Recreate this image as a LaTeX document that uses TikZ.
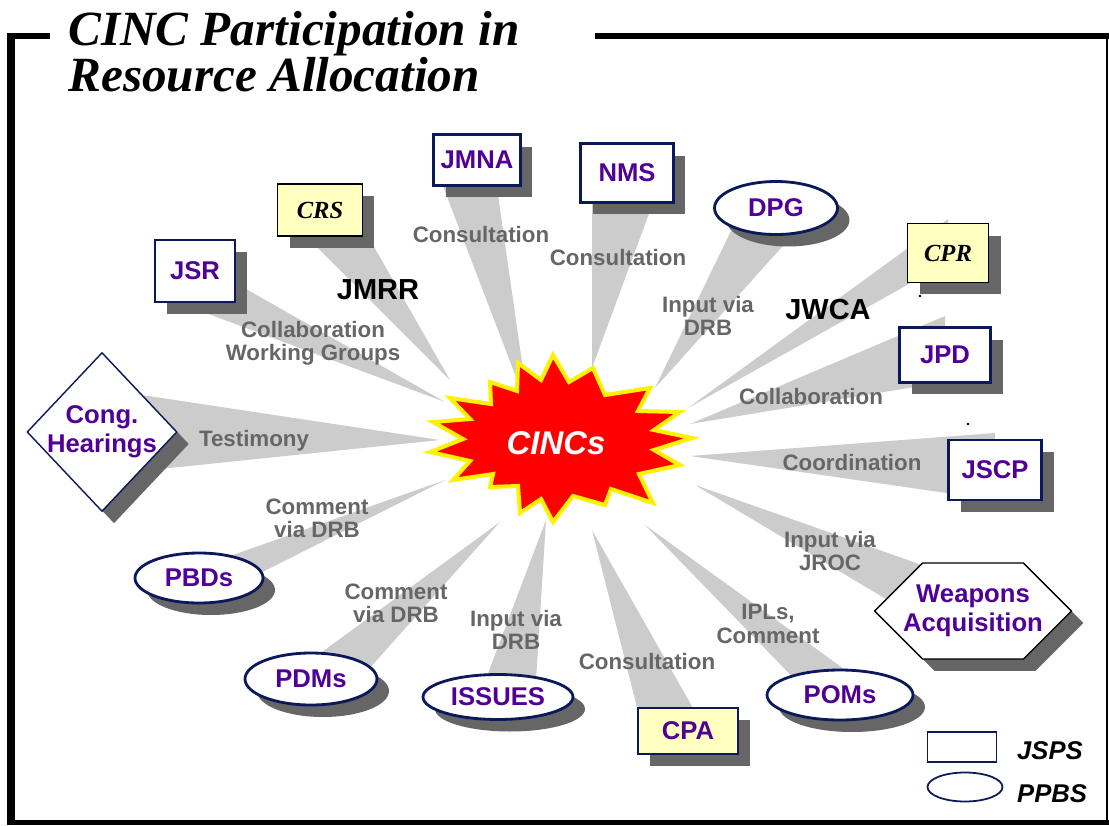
\documentclass[tikz,border=0pt]{standalone}
\usepackage{fontspec}
\setmainfont{Liberation Serif}
\setsansfont{Liberation Sans}
\usetikzlibrary{shapes.geometric, shapes.symbols, shadows, calc, backgrounds}

\definecolor{spokegray}{RGB}{204,204,204}
\definecolor{shadowgray}{RGB}{102,102,102}
\definecolor{tagtext}{RGB}{102,102,102}
\definecolor{navyline}{RGB}{10,25,90}
\definecolor{nodetext}{RGB}{80,0,150}
\definecolor{paleyellow}{RGB}{255,255,192}

\begin{document}
\begin{tikzpicture}[
    x = 0.02cm, y = -0.02cm,
    spoke/.style = {fill=spokegray},
    dropped/.style = {drop shadow={shadow xshift=0.24cm, shadow yshift=-0.24cm,
                      fill=shadowgray, opacity=1}},
    nodefont/.style = {font=\sffamily\bfseries\fontsize{14.6}{16.5}\selectfont, text=nodetext},
    jspsbox/.style = {rectangle, draw=navyline, line width=1.5pt, fill=white, dropped,
                      inner sep=0pt, nodefont},
    ppbsoval/.style = {ellipse, draw=navyline, line width=1.6pt, fill=white, dropped,
                       inner sep=0pt, nodefont},
    inputbox/.style = {rectangle, draw=black, line width=1.1pt, fill=paleyellow, dropped,
                       inner sep=0pt, font=\rmfamily\bfseries\itshape\fontsize{14}{16}\selectfont},
    tag/.style = {font=\sffamily\bfseries\fontsize{12.7}{13.3}\selectfont, text=tagtext, align=center},
    forum/.style = {font=\sffamily\bfseries\fontsize{16.5}{18}\selectfont},
    heading/.style = {anchor=north west, inner sep=0pt, align=left,
                      font=\bfseries\itshape\fontsize{28}{24.5}\selectfont},
    legendtext/.style = {font=\sffamily\bfseries\itshape\fontsize{14.6}{16}\selectfont, anchor=west}
]
\useasboundingbox (0,0) rectangle (1109,825);

% Frame
\fill (7,33) rectangle (50,39);
\fill (595,33) rectangle (1109,39);
\fill (7,33) rectangle (15,825);
\fill (7,820) rectangle (1109,825);
\draw[line width=0.04cm] (1107,36) -- (1107,822);

% Title
\node[heading] (title) at (68,11) {CINC Participation in\\Resource Allocation};

% Centre
\filldraw[fill=red, draw=yellow, line width=2.3pt]
    (553,355) -- (569,382) -- (593,368) -- (605,395) -- (650,388) -- (638,411) -- (680,412) -- (654,430)
    -- (692,438) -- (654,450) -- (680,465) -- (639,474) -- (653,503) -- (611,489) -- (605,505) -- (573,496)
    -- (553,522) -- (541,499) -- (520,513) -- (518,486) -- (490,487) -- (493,474) -- (453,480) -- (470,461)
    -- (430,452) -- (463,439) -- (433,422) -- (470,419) -- (450,398) -- (491,404) -- (490,382) -- (517,391)
    -- (518,363) -- (541,380) -- cycle;
\node[text=white, font=\sffamily\bfseries\itshape\fontsize{18.7}{20}\selectfont] (cincs) at (556,443) {CINCs};

% JSPS boxes
\node[jspsbox, minimum width=1.6cm, minimum height=1.24cm] (jsr) at (195,271) {JSR};
\node[jspsbox, minimum width=1.74cm, minimum height=1.02cm] (jmna) at (477,160) {JMNA};
\node[jspsbox, minimum width=1.86cm, minimum height=1.18cm] (nms) at (627,173) {NMS};
\node[jspsbox, minimum width=1.82cm, minimum height=1.1cm] (jpd) at (945,355) {JPD};
\node[jspsbox, minimum width=1.86cm, minimum height=1.2cm] (jscp) at (995,470) {JSCP};

% Inputs
\node[inputbox, minimum width=1.7cm, minimum height=1.04cm] (crs) at (320,210) {CRS};
\node[inputbox, minimum width=1.62cm, minimum height=1.18cm] (cpr) at (948,253) {CPR};
\node[inputbox, draw=navyline, nodefont, minimum width=2cm, minimum height=0.92cm] (cpa) at (688,731) {CPA};

% PPBS ovals
\node[ppbsoval, minimum width=2.46cm, minimum height=1.06cm] (dpg) at (776,208) {DPG};
\node[ppbsoval, minimum width=2.92cm, minimum height=1cm] (poms) at (840,695) {POMs};
\node[ppbsoval, minimum width=3cm, minimum height=0.9cm] (issues) at (498,697) {ISSUES};
\node[ppbsoval, minimum width=2.64cm, minimum height=1.04cm] (pdms) at (311,679) {PDMs};
\node[ppbsoval, minimum width=2.56cm, minimum height=1cm] (pbds) at (199,578) {PBDs};

% Others
\node[diamond, draw=navyline, line width=0.8pt, fill=white, dropped, inner sep=0pt,
      minimum width=3cm, minimum height=3.18cm,
      label={[nodefont, align=center]center:Cong.\\Hearings}] (cong) at (102,432) {};
\node[signal, signal to=west and east, signal pointer angle=90, draw=black, line width=0.8pt,
      fill=white, dropped, inner sep=0pt, minimum width=3.94cm, minimum height=1.92cm,
      label={[nodefont, align=center]center:Weapons\\Acquisition}] (weapons) at (973,611) {};

% Spoke tips
\coordinate (tip-jsr) at (445,402);
\coordinate (tip-crs) at (450,380);
\coordinate (tip-jmna) at (529,411);
\coordinate (tip-nms) at (592,368);
\coordinate (tip-dpg) at (655,388);
\coordinate (tip-cpr) at (688,408);
\coordinate (tip-jpd) at (690,424);
\coordinate (tip-jscp) at (690,456);
\coordinate (tip-weapons) at (695,485);
\coordinate (tip-poms) at (645,525);
\coordinate (tip-cpa) at (592,530);
\coordinate (tip-issues) at (546,520);
\coordinate (tip-pdms) at (500,522);
\coordinate (tip-pbds) at (445,480);
\coordinate (tip-cong) at (440,440);

% Spokes
\begin{scope}[on background layer]
\fill[spoke] (tip-jsr) -- ($(jsr)+(0,-11)$) -- ($(jsr)+(0,38)$) -- cycle;
\fill[spoke] (tip-crs) -- ($(crs)+(-40,0)$) -- ($(crs)+(33,0)$) -- cycle;
\fill[spoke] (tip-jmna) -- ($(jmna)+(-44,0)$) -- ($(jmna)+(16,0)$) -- cycle;
\fill[spoke] (tip-nms) -- ($(nms)+(-35,0)$) -- ($(nms)+(37,0)$) -- cycle;
\fill[spoke] (tip-dpg) -- ($(dpg)+(-34,0)$) -- ($(dpg)+(41,0)$) -- cycle;
\fill[spoke] (tip-cpr) -- ($(cpr)+(0,-34)$) -- ($(cpr)+(0,9)$) -- cycle;
\fill[spoke] (tip-jpd) -- ($(jpd)+(0,-39)$) -- ($(jpd)+(0,27)$) -- cycle;
\fill[spoke] (tip-jscp) -- ($(jscp)+(0,-37)$) -- ($(jscp)+(0,30)$) -- cycle;
\fill[spoke] (tip-weapons) -- ($(weapons)+(0,-28)$) -- ($(weapons)+(0,40)$) -- cycle;
\fill[spoke] (tip-poms) -- ($(poms)+(-30,0)$) -- ($(poms)+(40,0)$) -- cycle;
\fill[spoke] (tip-cpa) -- ($(cpa)+(-45,0)$) -- ($(cpa)+(18,0)$) -- cycle;
\fill[spoke] (tip-issues) -- ($(issues)+(-19,0)$) -- ($(issues)+(37,0)$) -- cycle;
\fill[spoke] (tip-pdms) -- ($(pdms)+(-26,0)$) -- ($(pdms)+(49,0)$) -- cycle;
\fill[spoke] (tip-pbds) -- ($(pbds)+(0,-11)$) -- ($(pbds)+(0,26)$) -- cycle;
\fill[spoke] (tip-cong) -- ($(cong)+(0,-43)$) -- ($(cong)+(0,43)$) -- cycle;
\end{scope}

% Spoke labels
\node[tag] (t-jsr) at (313,343) {Collaboration\\Working Groups};
\node[forum] (jmrr) at (378,290) {JMRR};
\node[tag] (t-jmna) at (481,235) {Consultation};
\node[tag] (t-nms) at (618,258) {Consultation};
\node[tag] (t-dpg) at (708,316) {Input via\\DRB};
\node[forum] (jwca) at (828,310) {JWCA};
\node[tag] (t-jpd) at (811,397) {Collaboration};
\node[tag] (t-cong) at (254,441) {Testimony};
\node[tag] (t-jscp) at (852,463) {Coordination};
\node[tag] (t-pbds) at (317,518) {Comment\\via DRB};
\node[tag] (t-weapons) at (830,551) {Input via\\JROC};
\node[tag] (t-pdms) at (396,603) {Comment\\via DRB};
\node[tag] (t-issues) at (516,630) {Input via\\DRB};
\node[tag] (t-poms) at (768,624) {IPLs,\\Comment};
\node[tag] (t-cpa) at (647,662) {Consultation};

% Stray marks
\fill (920,296) circle[radius=0.8pt];
\fill (968,424) circle[radius=0.8pt];

% Legend
\node[draw=navyline, line width=1pt, inner sep=0pt, minimum width=1.38cm, minimum height=0.6cm] (key-jsps) at (962,747) {};
\node[ellipse, draw=navyline, line width=1pt, inner sep=0pt, minimum width=1.5cm, minimum height=0.58cm] (key-ppbs) at (965,787) {};
\node[legendtext] (l-jsps) at (1011,751) {JSPS};
\node[legendtext] (l-ppbs) at (1011,794) {PPBS};

\end{tikzpicture}
\end{document}
